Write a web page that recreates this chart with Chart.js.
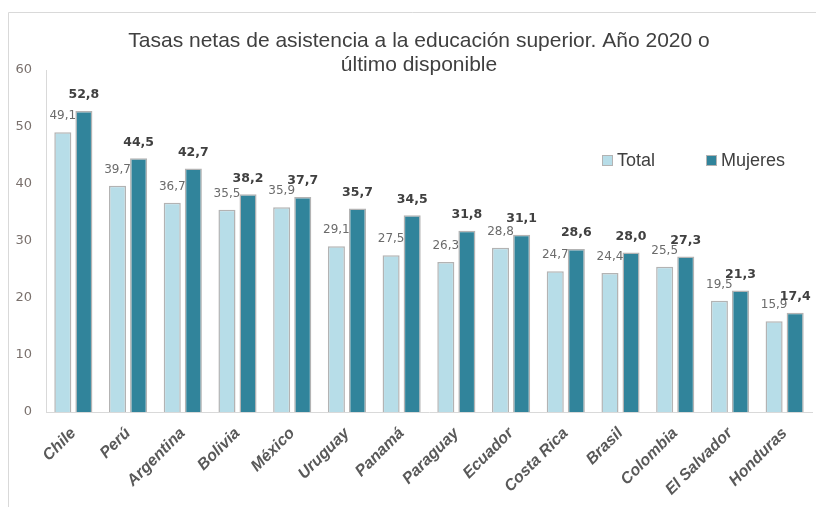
<!DOCTYPE html>
<html lang="es">
<head>
<meta charset="utf-8">
<title>Tasas netas de asistencia a la educación superior</title>
<script src="https://cdn.jsdelivr.net/npm/chart.js@4.4.1/dist/chart.umd.min.js"></script>
<style>
  body { margin: 0; background: #fff; }
  #contenedor { width: 816px; height: 507px; position: relative; }
</style>
</head>
<body>
<div id="contenedor"><canvas id="grafico"></canvas></div>
<script>
// Datos del gráfico
const paises = ['Chile', 'Perú', 'Argentina', 'Bolivia', 'México', 'Uruguay', 'Panamá',
    'Paraguay', 'Ecuador', 'Costa Rica', 'Brasil', 'Colombia', 'El Salvador', 'Honduras'];
const total = [49.1, 39.7, 36.7, 35.5, 35.9, 29.1, 27.5, 26.3, 28.8, 24.7, 24.4, 25.5, 19.5, 15.9];
const mujeres = [52.8, 44.5, 42.7, 38.2, 37.7, 35.7, 34.5, 31.8, 31.1, 28.6, 28.0, 27.3, 21.3, 17.4];
const ejeY = [0, 10, 20, 30, 40, 50, 60];
const titulo = ['Tasas netas de asistencia a la educación superior. Año 2020 o', 'último disponible'];

const colorTotal = '#b7dde8';
const colorMujeres = '#31849b';
const colorBorde = '#b3b3b3';

// Formato con coma decimal
function formato(v) {
    return v.toFixed(1).replace('.', ',');
}

// Marco, título, etiquetas de datos y leyenda
const decoracion = {
    id: 'decoracion',
    beforeDraw(chart) {
        const ctx = chart.ctx;
        ctx.save();
        ctx.strokeStyle = '#d9d9d9';
        ctx.lineWidth = 1;
        ctx.beginPath();
        ctx.moveTo(8.5, 507);
        ctx.lineTo(8.5, 12.5);
        ctx.lineTo(816, 12.5);
        ctx.stroke();

        ctx.fillStyle = '#404040';
        ctx.font = '21px "Liberation Sans", Arial, sans-serif';
        ctx.textAlign = 'center';
        ctx.textBaseline = 'middle';
        ctx.fillText(titulo[0], 419, 41);
        ctx.fillText(titulo[1], 419, 65);
        ctx.restore();
    },
    afterDatasetsDraw(chart) {
        const ctx = chart.ctx;
        ctx.save();
        ctx.textAlign = 'center';
        ctx.textBaseline = 'middle';
        chart.data.datasets.forEach((ds, i) => {
            const meta = chart.getDatasetMeta(i);
            ctx.font = i === 0 ? '12px "DejaVu Sans", sans-serif' : 'bold 12.5px "DejaVu Sans", sans-serif';
            ctx.fillStyle = i === 0 ? '#6b6b6b' : '#404040';
            meta.data.forEach((bar, j) => {
                ctx.fillText(formato(ds.data[j]), bar.x, bar.y - 16);
            });
        });

        // Leyenda
        const items = [{ x: 602, ds: chart.data.datasets[0] }, { x: 706, ds: chart.data.datasets[1] }];
        ctx.textAlign = 'left';
        ctx.font = '18px "Liberation Sans", Arial, sans-serif';
        items.forEach(it => {
            ctx.fillStyle = it.ds.backgroundColor;
            ctx.fillRect(it.x, 155, 10, 10);
            ctx.strokeStyle = colorBorde;
            ctx.strokeRect(it.x + 0.5, 155.5, 10, 10);
            ctx.fillStyle = '#404040';
            ctx.fillText(it.ds.label, it.x + 15, 161);
        });
        ctx.restore();
    }
};

const ctx = document.getElementById('grafico').getContext('2d');
const chart = new Chart(ctx, {
    type: 'bar',
    data: {
        labels: paises,
        datasets: [{
            label: 'Total',
            data: total,
            backgroundColor: colorTotal,
            borderColor: colorBorde,
            borderWidth: 1.5,
            categoryPercentage: 0.77,
            barPercentage: 0.81
        }, {
            label: 'Mujeres',
            data: mujeres,
            backgroundColor: colorMujeres,
            borderColor: colorBorde,
            borderWidth: 1.5,
            categoryPercentage: 0.77,
            barPercentage: 0.81
        }]
    },
    options: {
        responsive: true,
        maintainAspectRatio: false,
        animation: false,
        layout: { padding: { top: 70, right: 4, bottom: 5, left: 0 } },
        plugins: {
            legend: { display: false },
            title: { display: false },
            tooltip: { enabled: false }
        },
        scales: {
            x: {
                grid: { display: false, drawTicks: false },
                border: { display: true, color: '#d9d9d9', width: 1 },
                ticks: {
                    color: '#595959',
                    font: { family: '"Liberation Sans", Arial, sans-serif', size: 16, weight: 'bold', style: 'italic' },
                    minRotation: 45,
                    maxRotation: 45,
                    padding: 12,
                    autoSkip: false
                },
                afterFit(scale) { scale.height = 90; }
            },
            y: {
                min: ejeY[0],
                max: ejeY[ejeY.length - 1],
                afterBuildTicks(scale) { scale.ticks = ejeY.map(v => ({ value: v })); },
                grid: { display: false, drawTicks: false },
                border: { display: true, color: '#d9d9d9', width: 1 },
                ticks: {
                    color: '#7a716d',
                    font: { family: '"DejaVu Sans", sans-serif', size: 13 },
                    padding: 14
                },
                afterFit(scale) { scale.width = 46; }
            }
        }
    },
    plugins: [decoracion]
});
</script>
</body>
</html>
